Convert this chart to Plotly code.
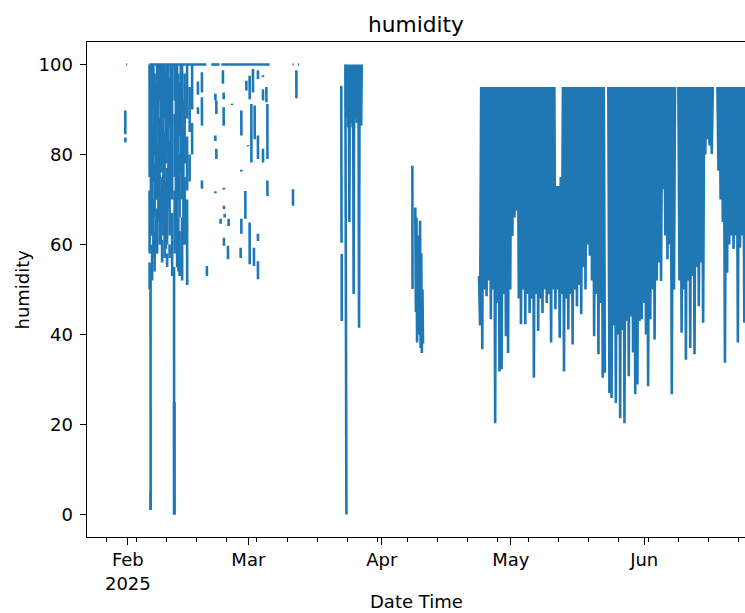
import numpy as np
import pandas as pd
import plotly.graph_objects as go

# All times are day offsets from BASE_DATE.
BASE_DATE = "2025-02-01"

# ---- short isolated dashes: (day, upper value, lower value) ----
dash_day = [-0.60, -0.58, 16.28, 16.28, 17.21, 17.21, 17.21, 18.37, 20.33, 20.56,
            20.33, 20.56, 20.33, 21.56, 22.09, 22.26, 22.26, 22.33, 22.33, 22.49,
            22.33, 23.42, 23.26, 24.19, 26.37, 26.37, 26.37, 26.21, 27.30, 27.53,
            27.91, 28.30, 28.30, 28.70, 29.07, 29.30, 29.47, 30.23, 30.23, 30.23,
            30.23, 31.40, 31.40, 31.40, 32.19, 32.42, 32.42, 38.37, 39.16]
dash_hi = [89.8, 83.8, 96.2, 90.5, 98.3, 92.7, 74.2, 55.2, 93.5, 92.0,
           84.2, 81.3, 71.8, 65.7, 98.7, 93.8, 90.5, 72.6, 68.6, 66.8,
           61.5, 65.7, 59.7, 91.3, 89.8, 76.6, 65.7, 59.3, 71.9, 96.4,
           82.1, 97.5, 64.9, 91.2, 99.0, 59.3, 90.9, 98.7, 84.2, 62.4,
           56.3, 97.6, 94.5, 81.3, 95.0, 91.2, 74.2, 72.3, 98.7]
dash_lo = [84.5, 82.7, 93.3, 89.0, 93.8, 86.4, 72.4, 53.0, 92.0, 89.0,
           83.0, 79.0, 71.4, 64.6, 95.7, 92.3, 86.4, 72.2, 67.9, 66.0,
           59.7, 64.1, 56.7, 91.0, 84.2, 76.2, 62.4, 57.0, 65.7, 94.2,
           81.8, 92.3, 55.6, 78.2, 93.8, 55.2, 83.4, 96.8, 79.0, 60.8,
           52.3, 97.2, 92.0, 78.2, 91.6, 79.0, 70.8, 68.6, 92.5]

# ---- Feb 6 - Feb 16 dense burst: broken vertical strokes (day, hi, lo) ----
feb_col_day = [5.05, 5.05, 5.05, 5.28, 5.30, 5.63, 5.63, 5.63, 6.21, 6.21, 6.21,
               6.79, 6.79, 6.79, 7.37, 7.37, 7.95, 7.95, 7.95, 8.53, 8.53,
               9.12, 9.12, 9.12, 9.70, 9.70, 9.70, 10.28, 10.28, 10.74, 10.76,
               10.78, 10.86, 10.86, 10.86, 11.44, 11.44, 12.02, 12.02, 12.02,
               12.60, 12.60, 12.60, 13.19, 13.19, 13.77, 13.77, 13.77, 14.35,
               14.35, 14.93, 14.93,
               5.35, 5.92, 5.92, 6.50, 6.50, 7.08, 7.66, 7.66, 8.24, 8.82,
               8.82, 9.41, 9.99, 11.15, 11.73, 11.73, 12.31, 12.90]
feb_col_hi = [100, 72, 56, 55, 5, 100, 87, 60, 98, 78, 63,
              100, 82, 68, 100, 88, 99, 75, 61, 100, 85,
              100, 77, 58, 97, 83, 60, 100, 67, 55, 25,
              25, 100, 89, 72, 100, 80, 96, 80, 63,
              100, 86, 66, 98, 75, 100, 84, 70, 95,
              80, 100, 87,
              100, 100, 70, 96, 66, 100, 100, 72, 100, 98,
              74, 100, 100, 100, 98, 66, 100, 92]
feb_col_lo = [75, 58, 50, 1, 1, 90, 62, 52, 80, 66, 54,
              85, 70, 58, 92, 60, 78, 64, 56, 88, 57,
              80, 60, 55, 86, 62, 57, 70, 53, 0, 0,
              0, 92, 75, 58, 82, 55, 84, 66, 53,
              90, 70, 52, 78, 60, 88, 72, 51, 85,
              74, 90, 80,
              62, 74, 57, 70, 58, 65, 76, 60, 62, 78,
              59, 68, 72, 64, 70, 54, 76, 60]

# ---- saturated stretches at 100 % (start day, end day) ----
sat_start = [-0.40, 5.00, 19.40, 21.72, 38.30, 39.55]
sat_end = [-0.15, 18.23, 21.33, 32.95, 38.55, 39.80]

# ---- Mar 22 - Mar 27 ----
mar_day = [49.60, 49.62, 49.64, 49.66, None, 49.70, 49.72, None, 50.55, 50.79]
mar_vals = [95.3, 80.0, 94.0, 60.4, None, 57.9, 43.0, None, 100, 0]
mar_burst_start, mar_burst_end = 50.85, 54.35
mar_burst_vals = [100, 88, 100, 86, 100, 65, 100, 87, 100, 90, 100, 86, 100, 49, 100,
                  88, 100, 92, 100, 87, 100, 89, 100, 41.5, 100, 87, 100, 86.4, 100]

# ---- Apr 7 - Apr 9 ----
apr_day = [66.12, 66.16]
apr_vals = [77.5, 50.1]
apr_burst_start, apr_burst_end = 66.80, 68.60
apr_burst_vals = [68.2, 45, 66, 38.2, 62, 42, 60, 40, 65.3, 37, 58, 35.9, 50, 38]

# ---- late Apr - Jun: troughs every half day, peaks at sensor cap ----
PEAK = 95
cyc1_start = 81.86
cyc1_lows = [42, 36.7, 50, 48.5, 52, 43.4, 50, 20.3, 47, 31.8,
             32.3, 49, 39.6, 35.9, 50, 61.9, 66, 67.5, 48, 42.3,
             50, 42.3, 49, 44.8, 48, 30.4, 49, 40.8, 48, 44.8,
             50, 47, 49, 38.2, 50, 45.6, 50, 39.3, 49, 31.8,
             48, 41.1, 49, 37.8, 50, 46.3, 51, 44.5, 55, 50,
             60, 57.5, 52, 39.6, 49, 35.6, 47, 30.4, 31.5]
cyc1_peak_exc = {0: 53, 36: 73, 37: 73, 38: 75}
cyc2_start = 111.91
cyc2_lows = [27, 25.9, 42, 24.8, 40, 21.4, 41, 20.3, 43, 30.7,
             44, 36, 26.7, 28.9, 43, 43.4, 47, 40, 28.5, 43.4,
             50, 38.9, 52, 56, 51.9, 72.3, 62, 56.7, 60, 26.7, 50]
cyc2_peak_exc = {}
cyc3_start = 128.19
cyc3_lows = [52, 40.4, 50, 34.4, 52, 37, 53, 35.6, 55, 46.3,
             56, 42.6, 80, 83.4, 82, 80.1]
cyc3_peak_exc = {}
cyc4_start = 137.26
cyc4_lows = [76.4, 70, 65, 33.7, 53.7, 60, 62, 59, 62, 38.2, 59.3, 62, 42.6]
cyc4_peak_exc = {}

# x-axis labels
month_ticks = ["2025-02-01", "2025-03-01", "2025-04-01", "2025-05-01", "2025-06-01"]
month_text = ["Feb<br>2025", "Mar", "Apr", "May", "Jun"]

# ------------------------------------------------------------------
base = pd.Timestamp(BASE_DATE)


def ts(d):
    return base + pd.to_timedelta(d, unit="D")


xs, ys = [], []


def add(days, vals):
    for d, v in zip(days, vals):
        if d is None or v is None:
            xs.append(None)
            ys.append(None)
        else:
            xs.append(ts(d))
            ys.append(v)
    xs.append(None)
    ys.append(None)


def add_burst(start, end, vals):
    days = np.linspace(start, end, len(vals))
    add([float(d) for d in days], vals)


def add_cycles(start, lows, exc, final_peak=True):
    days, vals = [], []
    for i, lo in enumerate(lows):
        days += [start + 0.5 * i - 0.25, start + 0.5 * i]
        vals += [exc.get(i, PEAK), lo]
    if final_peak:
        days.append(start + 0.5 * len(lows) - 0.25)
        vals.append(exc.get(len(lows), PEAK))
    add(days, vals)


for d, hi, lo in zip(dash_day, dash_hi, dash_lo):
    add([d, d + 0.02], [hi, lo])
for d, hi, lo in zip(feb_col_day, feb_col_hi, feb_col_lo):
    add([d, d + 0.02], [hi, lo])
for s, e in zip(sat_start, sat_end):
    add([s, e], [100, 100])
add(mar_day, mar_vals)
add_burst(mar_burst_start, mar_burst_end, mar_burst_vals)
add(apr_day, apr_vals)
add_burst(apr_burst_start, apr_burst_end, apr_burst_vals)
add_cycles(cyc1_start, cyc1_lows, cyc1_peak_exc, final_peak=False)
add_cycles(cyc2_start, cyc2_lows, cyc2_peak_exc)
add_cycles(cyc3_start, cyc3_lows, cyc3_peak_exc)
add_cycles(cyc4_start, cyc4_lows, cyc4_peak_exc)

FONT = "DejaVu Sans"
FS = 18
fig = go.Figure()
fig.add_trace(go.Scatter(x=xs, y=ys, mode="lines", connectgaps=False,
                         line=dict(color="#1f77b4", width=2.6), showlegend=False,
                         hoverinfo="skip"))

mondays = pd.date_range("2025-01-27", "2025-06-23", freq="7D")
x_left = base + pd.to_timedelta(-9.49, unit="D")
x_right = base + pd.to_timedelta(143.42, unit="D")

axis_common = dict(showgrid=False, zeroline=False, showline=True, linecolor="black",
                   linewidth=1.4, ticks="outside", ticklen=6.3, tickwidth=1.4,
                   tickcolor="black", automargin=False,
                   tickfont=dict(family=FONT, size=FS, color="black"))

fig.update_layout(
    width=745, height=613,
    margin=dict(l=87, r=0, t=42, b=76),
    paper_bgcolor="white", plot_bgcolor="white",
    title=dict(text="humidity", x=0.5, xref="paper", xanchor="center",
               y=1 - 24 / 613, yref="container", yanchor="middle",
               font=dict(family=FONT, size=21.7, color="black")),
    xaxis=dict(range=[x_left, x_right], tickmode="array", tickvals=month_ticks,
               ticktext=month_text, mirror=True, ticklabelstandoff=0,
               minor=dict(tickmode="array", tickvals=[d.strftime("%Y-%m-%d") for d in mondays],
                          ticks="outside", ticklen=3.6, tickwidth=1.1, tickcolor="black",
                          showgrid=False),
               **axis_common),
    yaxis=dict(range=[-5, 105], tickmode="array", tickvals=[0, 20, 40, 60, 80, 100],
               mirror=False, ticklabelstandoff=3, **axis_common),
    annotations=[
        dict(text="humidity", textangle=-90, xref="paper", yref="paper",
             x=(22 - 87) / 658, y=0.5, xanchor="center", yanchor="middle",
             showarrow=False, font=dict(family=FONT, size=FS, color="black")),
        dict(text="Date Time", xref="paper", yref="paper",
             x=0.5, y=(537 - 601) / 495, xanchor="center", yanchor="middle",
             showarrow=False, font=dict(family=FONT, size=FS, color="black")),
    ],
)

fig.write_html("out.html")
